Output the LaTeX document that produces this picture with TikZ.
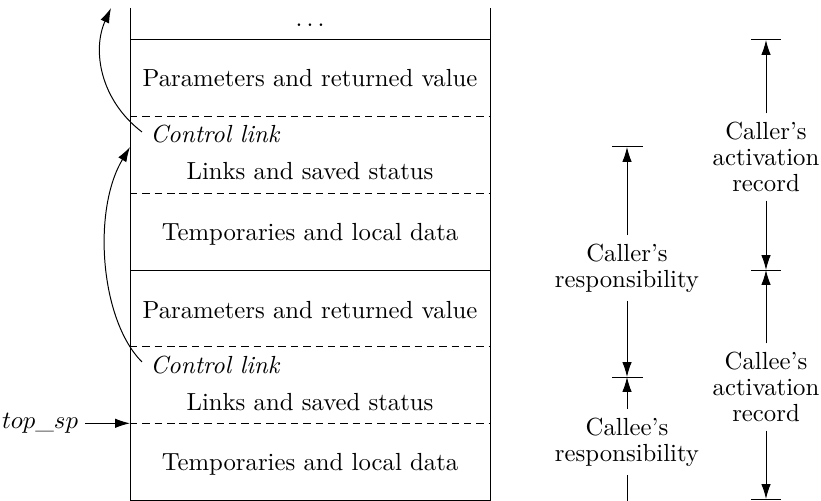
\documentclass[tikz,border=0pt]{standalone}
\usepackage{amsmath,amssymb}
\usepackage{tikz}
\usetikzlibrary{arrows.meta}

\begin{document}
\begin{tikzpicture}[
  x=0.0142cm,y=-0.0142cm,
  every node/.style={align=center,font=\fontsize{10}{10.5}\selectfont},
  field/.style={inner sep=0pt},
  dashline/.style={dash pattern=on 3pt off 2pt},
  >={Latex[length=6pt,width=3.8pt]}]
\useasboundingbox (0,0) rectangle (821,501);
% the stack
\draw (130,8) -- (130,500) -- (490,500) -- (490,8);
\draw (130,40) -- (490,40);
\draw (130,270) -- (490,270);
\draw[dashline] (130,116.7) -- (490,116.7);
\draw[dashline] (130,193.3) -- (490,193.3);
\draw[dashline] (130,346.7) -- (490,346.7);
\draw[dashline] (130,423.3) -- (490,423.3);
\node[field] (dots) at (310,25) {$\ldots$};
\node[field] (par1) at (310,78) {Parameters and returned value};
\node[field,anchor=west] (cl1) at (150,134) {\textit{Control link}};
\node[field] (lnk1) at (310,171) {Links and saved status};
\node[field] (tmp1) at (310,234) {Temporaries and local data};
\node[field] (par2) at (310,310) {Parameters and returned value};
\node[field,anchor=west] (cl2) at (150,365) {\textit{Control link}};
\node[field] (lnk2) at (310,402) {Links and saved status};
\node[field] (tmp2) at (310,464) {Temporaries and local data};
% control links
\coordinate (top) at (111,8);
\coordinate (link1) at (130,147);
\draw[->] (142,132) .. controls (100,100) and (92,50) .. (top);
\draw[->] (142,362) .. controls (100,320) and (92,210) .. (link1);
% top_sp
\node (sp) at (40,423) {$top\_sp$};
\coordinate (spt) at (130,423.3);
\draw[->] (85,423.3) -- (spt);
% responsibilities
\node (crs) at (627,268) {Caller's\\responsibility};
\node (ces) at (627,442) {Callee's\\responsibility};
\coordinate (r1) at (627,147);
\coordinate (r2) at (627,377);
\draw (612,147) -- (643,147);
\draw (612,377) -- (643,377);
\draw[->] (crs) -- (r1);
\draw[->] (crs) -- (r2);
\draw[->] (ces) -- (r2);
\draw (ces) -- (627,501);
% activation records
\node (car) at (766,157) {Caller's\\activation\\record};
\node (cer) at (766,387) {Callee's\\activation\\record};
\coordinate (a1) at (766,40);
\coordinate (a2) at (766,270);
\coordinate (a3) at (766,499);
\draw (751,40) -- (781,40);
\draw (751,270) -- (781,270);
\draw (751,499) -- (781,499);
\draw[->] (car) -- (a1);
\draw[->] (car) -- (a2);
\draw[->] (cer) -- (a2);
\draw[->] (cer) -- (a3);
\end{tikzpicture}
\end{document}
